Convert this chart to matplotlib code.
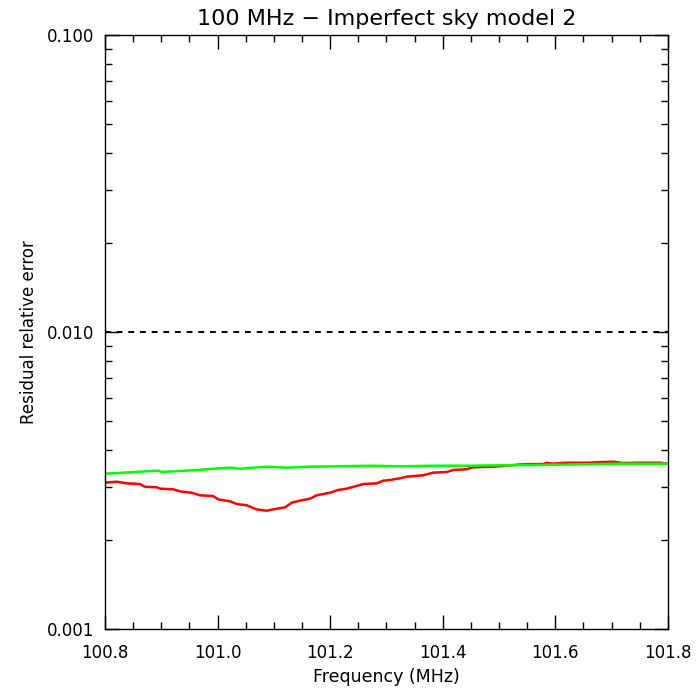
import numpy as np
import matplotlib
matplotlib.use("Agg")
import matplotlib.pyplot as plt
from matplotlib.ticker import MultipleLocator, LogLocator, FormatStrFormatter, NullFormatter

# red curve (imperfect sky model)
freq_red = [100.800, 100.821, 100.839, 100.862, 100.871, 100.892, 100.898, 100.921,
            100.936, 100.954, 100.969, 100.992, 101.001, 101.022, 101.034, 101.052,
            101.069, 101.087, 101.099, 101.120, 101.132, 101.146, 101.164, 101.176,
            101.200, 101.214, 101.229, 101.247, 101.259, 101.283, 101.294, 101.306,
            101.324, 101.336, 101.365, 101.383, 101.407, 101.419, 101.442, 101.454,
            101.490, 101.543, 101.579, 101.585, 101.596, 101.620, 101.656, 101.703,
            101.721, 101.750, 101.786, 101.800]
err_red = [3.109, 3.133, 3.094, 3.077, 3.014, 3.000, 2.968, 2.954,
           2.900, 2.877, 2.820, 2.804, 2.733, 2.692, 2.636, 2.609,
           2.529, 2.502, 2.529, 2.569, 2.663, 2.704, 2.746, 2.820,
           2.877, 2.938, 2.968, 3.031, 3.077, 3.094, 3.157, 3.174,
           3.217, 3.257, 3.293, 3.360, 3.378, 3.431, 3.450, 3.503,
           3.520, 3.586, 3.594, 3.630, 3.603, 3.630, 3.630, 3.658,
           3.622, 3.630, 3.630, 3.603]

# green curve
freq_green = [100.800, 100.833, 100.862, 100.895, 100.901, 100.942, 100.972, 100.992,
              101.022, 101.040, 101.063, 101.090, 101.123, 101.161, 101.206, 101.274,
              101.324, 101.383, 101.451, 101.602, 101.712, 101.800]
err_green = [3.333, 3.360, 3.386, 3.412, 3.378, 3.412, 3.439, 3.466,
             3.493, 3.466, 3.493, 3.520, 3.493, 3.520, 3.530, 3.547,
             3.530, 3.547, 3.547, 3.575, 3.603, 3.603]

threshold = 0.01

plt.rcParams['font.family'] = ['DejaVu Sans']
fig = plt.figure(figsize=(7, 7), dpi=100)
ax = fig.add_axes([0.15, 0.1014, 0.804, 0.8486])

ax.plot(freq_red, np.array(err_red) * 1e-3, color='red', lw=1.8)
ax.plot(freq_green, np.array(err_green) * 1e-3, color='#00ff00', lw=1.8)
ax.axhline(threshold, color='black', lw=1.4, ls=(0, (3, 3)))

ax.set_yscale('log')
ax.set_xlim(100.8, 101.8)
ax.set_ylim(0.001, 0.1)

ax.xaxis.set_major_locator(MultipleLocator(0.2))
ax.xaxis.set_minor_locator(MultipleLocator(0.05))
ax.xaxis.set_major_formatter(FormatStrFormatter('%.1f'))
ax.yaxis.set_major_locator(LogLocator(base=10, numticks=5))
ax.yaxis.set_minor_locator(LogLocator(base=10, subs=np.arange(2, 10), numticks=10))
ax.yaxis.set_major_formatter(FormatStrFormatter('%.3f'))
ax.yaxis.set_minor_formatter(NullFormatter())

ax.tick_params(which='both', direction='in', top=True, right=True, width=1, colors='black', labelsize=12)
ax.tick_params(axis='x', which='major', length=10, pad=11)
ax.tick_params(axis='y', which='major', length=10, pad=8)
ax.tick_params(which='minor', length=5)
for s in ax.spines.values():
    s.set_linewidth(1)

ax.set_title('100 MHz \u2212 Imperfect sky model 2', fontsize=16, pad=7)
ax.set_xlabel('Frequency (MHz)', fontsize=12.5, labelpad=4)
ax.set_ylabel('Residual relative error', fontsize=12, labelpad=6)

fig.savefig('out.png', dpi=100)
